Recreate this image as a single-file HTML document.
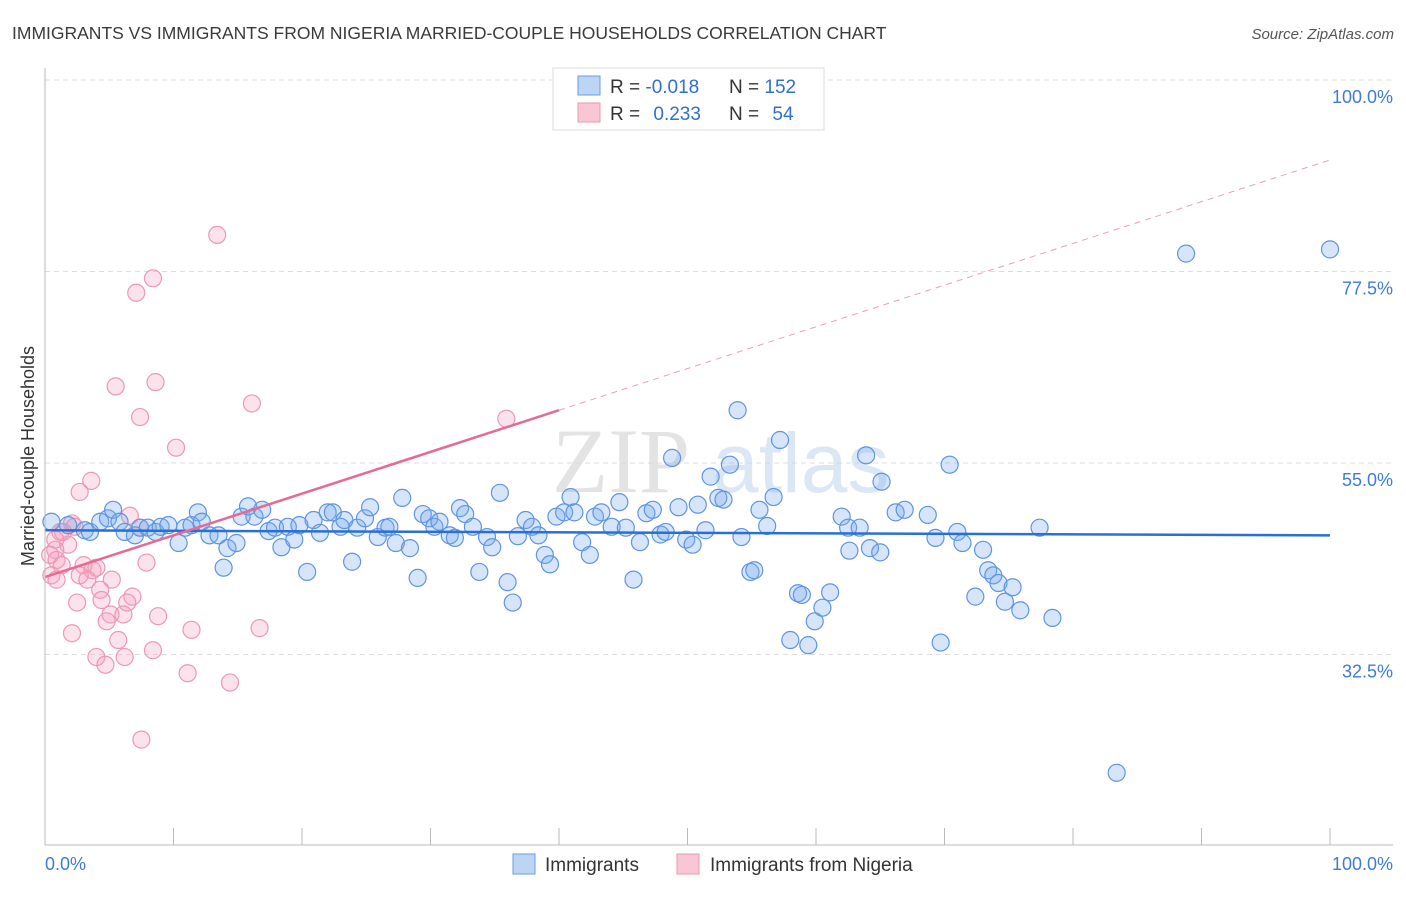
<!DOCTYPE html>
<html><head><meta charset="utf-8"><style>
body{margin:0;background:#fff;font-family:"Liberation Sans",sans-serif;}
#wrap{position:relative;width:1406px;height:892px;}
</style></head><body>
<div id="wrap">
<svg id="svg" width="1406" height="892" xmlns="http://www.w3.org/2000/svg">
<text x="12" y="39" font-size="17.5" fill="#3a3a3a">IMMIGRANTS VS IMMIGRANTS FROM NIGERIA MARRIED-COUPLE HOUSEHOLDS CORRELATION CHART</text>
<text x="1394" y="39" font-size="15" fill="#555" font-style="italic" text-anchor="end">Source: ZipAtlas.com</text>
<text transform="translate(34,456) rotate(-90)" font-size="18" fill="#333" text-anchor="middle">Married-couple Households</text>
<g id="grid"></g>
<g>
<text x="552" y="492" font-size="92" font-family="Liberation Serif,serif" fill="#d8d8d8" opacity="0.7">ZIP</text>
<text x="712" y="492" font-size="84" fill="#c5d8f0" opacity="0.6">atlas</text>
</g>
<g id="pts"></g>
<g id="lines"></g>
<g id="axes"></g>
<g>
<rect x="553" y="68" width="271" height="62" fill="#fff" stroke="#ddd"/>
<rect x="578" y="76" width="22" height="19" fill="#bcd5f5" stroke="#6a9ee3"/>
<rect x="578" y="103" width="22" height="19" fill="#f9c6d6" stroke="#eb97b2"/>
<text x="610" y="93" font-size="19" fill="#333">R = <tspan fill="#2f6fd0">-0.018</tspan></text>
<text x="729" y="93" font-size="19" fill="#333">N = <tspan fill="#2f6fd0">152</tspan></text>
<text x="610" y="120" font-size="19" fill="#333">R = <tspan fill="#2f6fd0" dx="8">0.233</tspan></text>
<text x="729" y="120" font-size="19" fill="#333">N = <tspan fill="#2f6fd0" dx="8">54</tspan></text>
</g>
<g>
<rect x="513" y="854" width="22" height="20" fill="#bcd5f5" stroke="#6a9ee3"/>
<text x="545" y="871" font-size="19" fill="#333">Immigrants</text>
<rect x="677" y="854" width="22" height="20" fill="#f9c6d6" stroke="#eb97b2"/>
<text x="710" y="871" font-size="19" fill="#333">Immigrants from Nigeria</text>
</g>
</svg>
</div>
<script>
const blueX=[0.5,1.8,3.1,3.5,4.3,4.9,5.3,5.8,6.2,7.0,7.4,8.0,8.6,9.0,9.6,10.4,10.9,11.4,11.9,12.2,12.8,13.5,13.9,14.2,14.9,15.3,15.8,16.3,16.9,17.4,17.9,18.4,18.9,19.4,19.8,20.4,20.9,21.4,22.0,22.4,23.0,23.3,23.9,24.3,24.9,25.3,25.9,26.5,26.8,27.3,27.8,28.4,29.0,29.4,29.9,30.3,30.7,31.5,31.9,32.3,32.7,33.3,33.8,34.4,34.8,35.4,36.0,36.4,36.8,37.4,37.9,38.4,38.9,39.3,39.8,40.4,40.9,41.2,41.8,42.4,42.8,43.3,44.1,44.7,45.2,45.8,46.3,46.8,47.3,47.9,48.3,48.8,49.3,49.9,50.4,50.8,51.4,51.8,52.4,52.8,53.3,53.9,54.2,54.9,55.2,55.6,56.2,56.7,57.2,58.0,58.6,58.9,59.4,59.9,60.5,61.1,62.0,62.5,62.6,63.4,63.9,64.2,65.0,65.1,66.2,66.9,68.7,69.3,69.7,70.4,71.0,71.4,72.4,73.0,73.4,73.8,74.2,74.7,75.3,75.9,77.4,78.4,83.4,88.8,100];
const blueY=[48.1,47.7,47.1,46.9,48.1,48.5,49.5,48.1,46.9,46.5,47.4,47.4,46.9,47.5,47.7,45.6,47.4,47.7,49.2,48.1,46.5,46.5,42.7,45.0,45.6,48.7,49.9,48.7,49.5,47.0,47.4,45.1,47.5,46.0,47.7,42.2,48.3,46.8,49.2,49.2,47.5,48.3,43.4,47.4,48.5,49.8,46.3,47.4,47.5,45.6,50.9,45.0,41.5,49.0,48.5,47.5,48.1,46.5,46.2,49.7,49.0,47.5,42.2,46.3,45.1,51.5,41.0,38.6,46.4,48.3,47.5,46.5,44.2,43.1,48.7,49.2,51.0,49.2,45.7,44.2,48.7,49.2,47.5,50.4,47.4,41.3,45.7,49.1,49.5,46.6,46.9,55.6,49.8,46.0,45.4,50.1,47.1,53.4,50.9,50.7,54.8,61.2,46.3,42.2,42.4,49.5,47.6,51.0,57.7,34.2,39.7,39.5,33.6,36.4,38.0,39.8,48.7,47.4,44.7,47.4,55.9,45.0,44.5,52.8,49.2,49.5,48.9,46.2,33.9,54.8,46.9,45.6,39.3,44.8,42.4,41.8,40.9,38.7,40.4,37.7,47.4,36.8,18.6,79.6,80.1];
const pinkX=[13.4,8.4,7.1,5.5,8.6,7.4,16.1,35.9,10.2,3.6,2.7,6.6,2.1,2.3,1.2,1.8,0.8,0.4,0.9,1.3,3.0,3.7,4.0,7.9,0.5,0.9,2.7,3.3,5.2,4.3,4.4,2.5,6.8,6.4,5.1,6.1,8.8,4.8,11.4,16.7,2.1,5.7,8.4,4.0,6.2,4.7,11.1,14.4,7.5,1.4,0.8,7.4];
const pinkY=[81.8,76.7,75.0,64.0,64.5,60.4,62.0,60.2,56.8,52.9,51.6,48.8,47.9,47.5,46.9,45.4,44.8,44.2,43.6,43.0,43.0,42.4,42.7,43.3,41.8,41.3,41.8,41.3,41.3,40.1,38.9,38.6,39.3,38.6,37.2,37.2,37.0,36.4,35.4,35.6,35.0,34.2,33.0,32.2,32.2,31.3,30.3,29.2,22.5,46.9,46.0,47.4];
const yTicks=[100,77.5,55,32.5];
const yTickLabels=["100.0%","77.5%","55.0%","32.5%"];
const blueTrend=[[0,47.1],[100,46.5]];
const pinkTrend=[[0,41.6],[40,61.2],[100,90.6]];
const X0=45,X1=1330,YTOP=80,PXPER=191.5/22.5;
const sx=v=>X0+(X1-X0)*v/100;
const sy=v=>YTOP+(100-v)*PXPER;
const NS="http://www.w3.org/2000/svg";
function mk(t,a,p){const e=document.createElementNS(NS,t);for(const k in a)e.setAttribute(k,a[k]);p.appendChild(e);return e;}
const grid=document.getElementById('grid');
yTicks.forEach((t,i)=>{
  const l=mk('line',{x1:45,x2:1393,y1:sy(t),y2:sy(t),stroke:'#ddd','stroke-dasharray':'5,4'},grid);
  
  
  const tx=mk('text',{x:1393,y:sy(t)+23,'font-size':18,fill:'#3d7bd9','text-anchor':'end'},grid);
  tx.textContent=yTickLabels[i];
  
  
});
const axes=document.getElementById('axes');
mk('line',{x1:45,x2:45,y1:68,y2:845,stroke:'#bbb'},axes);
mk('line',{x1:45,x2:1393,y1:845,y2:845,stroke:'#bbb'},axes);
for(let i=0;i<=10;i++){mk('line',{x1:sx(i*10),x2:sx(i*10),y1:828,y2:845,stroke:'#bbb'},axes);}
const xl=mk('text',{x:45,y:870,'font-size':18,fill:'#3d7bd9'},axes);xl.textContent='0.0%';


const xr=mk('text',{x:1393,y:870,'font-size':18,fill:'#3d7bd9','text-anchor':'end'},axes);xr.textContent='100.0%';


const pts=document.getElementById('pts');
pinkX.forEach((x,i)=>{const c=mk('circle',{cx:sx(x),cy:sy(pinkY[i]),r:8.5,fill:'rgba(245,160,190,0.3)',stroke:'#ec98b4','stroke-width':1.2},pts);
  
  });
blueX.forEach((x,i)=>{const c=mk('circle',{cx:sx(x),cy:sy(blueY[i]),r:8.5,fill:'rgba(120,170,240,0.3)',stroke:'#5e95e0','stroke-width':1.2},pts);
  
  });
const lines=document.getElementById('lines');
const bl=mk('line',{x1:sx(blueTrend[0][0]),y1:sy(blueTrend[0][1]),x2:sx(blueTrend[1][0]),y2:sy(blueTrend[1][1]),stroke:'#2a6fd6','stroke-width':2.5},lines);


const pl=mk('line',{x1:sx(pinkTrend[0][0]),y1:sy(pinkTrend[0][1]),x2:sx(pinkTrend[1][0]),y2:sy(pinkTrend[1][1]),stroke:'#e66a93','stroke-width':2.5},lines);


const pd=mk('line',{x1:sx(pinkTrend[1][0]),y1:sy(pinkTrend[1][1]),x2:sx(pinkTrend[2][0]),y2:sy(pinkTrend[2][1]),stroke:'#eaa0b8','stroke-width':1,'stroke-dasharray':'6,5'},lines);


</script>
</body></html>
